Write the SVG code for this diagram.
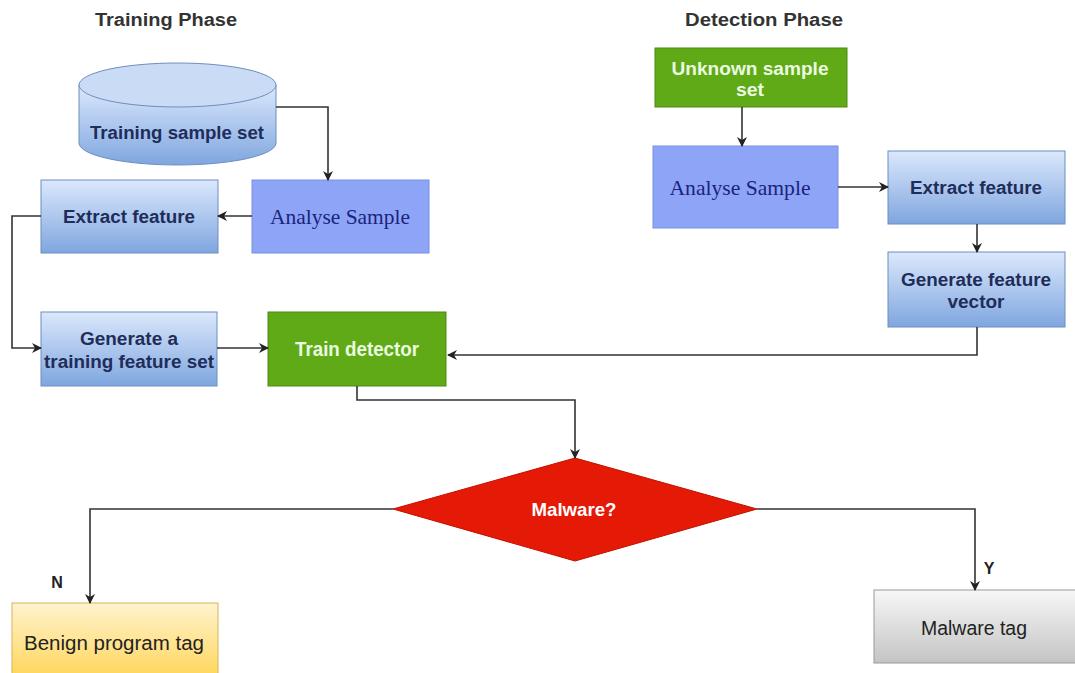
<svg xmlns="http://www.w3.org/2000/svg" width="1075" height="673" viewBox="0 0 1075 673">
<defs>
<linearGradient id="gBlue" x1="0" y1="0" x2="0" y2="1"><stop offset="0" stop-color="#dbe8fc"/><stop offset="1" stop-color="#7fa6df"/></linearGradient>
<linearGradient id="gYellow" x1="0" y1="0" x2="0" y2="1"><stop offset="0" stop-color="#fff3cf"/><stop offset="1" stop-color="#ffd75e"/></linearGradient>
<linearGradient id="gGray" x1="0" y1="0" x2="0" y2="1"><stop offset="0" stop-color="#f7f7f7"/><stop offset="1" stop-color="#c4c4c4"/></linearGradient>
<marker id="arr" viewBox="0 0 10 10" refX="9" refY="5" markerWidth="10" markerHeight="10" markerUnits="userSpaceOnUse" orient="auto">
<path d="M0,0 L10,5 L0,10 L3,5 Z" fill="#222"/>
</marker>
<style>
.title{font-family:"Liberation Sans",Arial,sans-serif;font-weight:bold;font-size:18px;fill:#333;text-anchor:middle}
.lbl{font-family:"Liberation Sans",Arial,sans-serif;font-weight:bold;font-size:18px;fill:#1f2d5a;text-anchor:middle}
.ser{font-family:"Liberation Serif","Times New Roman",serif;font-size:21px;fill:#1a237e;text-anchor:middle}
.wht{font-family:"Liberation Sans",Arial,sans-serif;font-weight:bold;font-size:18px;fill:#eafbe0;text-anchor:middle}
.nar{font-family:"Liberation Sans Narrow","Liberation Sans",Arial,sans-serif;font-size:20px;fill:#222;text-anchor:middle}
.blue{fill:url(#gBlue);stroke:#6c8ebf;stroke-width:1}
.peri{fill:#8ea4f6;stroke:#7b90e0;stroke-width:1}
.green{fill:#60a917;stroke:#4c8a12;stroke-width:1}
.conn{fill:none;stroke:#333;stroke-width:1.6;marker-end:url(#arr)}
</style>
</defs>
<rect width="1075" height="673" fill="#fff"/>

<g id="titles">
<text class="title" x="166" y="26" textLength="142" lengthAdjust="spacingAndGlyphs">Training Phase</text>
<text class="title" x="764" y="26" textLength="158" lengthAdjust="spacingAndGlyphs">Detection Phase</text>
</g>

<g id="training-sample-set">
<path class="blue" d="M79,85 L79,143 A98.5,22 0 0 0 276,143 L276,85 Z"/>
<ellipse cx="177.5" cy="85" rx="98.5" ry="22" fill="#c9dbf5" stroke="#6c8ebf" stroke-width="1"/>
<text class="lbl" x="177" y="139" textLength="174" lengthAdjust="spacingAndGlyphs">Training sample set</text>
</g>

<g id="analyse-sample-train">
<rect class="peri" x="252" y="180" width="177" height="73"/>
<text class="ser" x="340" y="224" textLength="140" lengthAdjust="spacingAndGlyphs">Analyse Sample</text>
</g>

<g id="extract-feature-train">
<rect class="blue" x="41" y="180" width="177" height="73"/>
<text class="lbl" x="129" y="223" textLength="132" lengthAdjust="spacingAndGlyphs">Extract feature</text>
</g>

<g id="generate-training-set">
<rect class="blue" x="41" y="312" width="176" height="74"/>
<text class="lbl" x="129" y="345" textLength="98" lengthAdjust="spacingAndGlyphs">Generate a</text>
<text class="lbl" x="129" y="368" textLength="170" lengthAdjust="spacingAndGlyphs">training feature set</text>
</g>

<g id="train-detector">
<rect class="green" x="268" y="312" width="178" height="74"/>
<text class="wht" x="357" y="356" style="font-size:20px" textLength="124" lengthAdjust="spacingAndGlyphs">Train detector</text>
</g>

<g id="unknown-sample-set">
<rect class="green" x="655" y="48" width="192" height="59"/>
<text class="wht" x="750" y="75" textLength="157" lengthAdjust="spacingAndGlyphs">Unknown sample</text>
<text class="wht" x="750" y="96" textLength="28" lengthAdjust="spacingAndGlyphs">set</text>
</g>

<g id="analyse-sample-detect">
<rect class="peri" x="653" y="146" width="185" height="82"/>
<text class="ser" x="740" y="195" textLength="141" lengthAdjust="spacingAndGlyphs">Analyse Sample</text>
</g>

<g id="extract-feature-detect">
<rect class="blue" x="888" y="151" width="177" height="73"/>
<text class="lbl" x="976" y="194" textLength="132" lengthAdjust="spacingAndGlyphs">Extract feature</text>
</g>

<g id="generate-feature-vector">
<rect class="blue" x="888" y="252" width="177" height="75"/>
<text class="lbl" x="976" y="286" textLength="150" lengthAdjust="spacingAndGlyphs">Generate feature</text>
<text class="lbl" x="976" y="308" textLength="57" lengthAdjust="spacingAndGlyphs">vector</text>
</g>

<g id="malware-decision">
<path d="M575,458 L757,509 L575,561 L393,509 Z" fill="#e51a06" stroke="#c01000" stroke-width="1"/>
<text class="wht" x="574" y="516" style="fill:#fff;font-size:19px" textLength="85" lengthAdjust="spacingAndGlyphs">Malware?</text>
</g>

<g id="benign-tag">
<rect x="12" y="603" width="206" height="72" fill="url(#gYellow)" stroke="#d6b656" stroke-width="1"/>
<text class="nar" x="114" y="650" textLength="180" lengthAdjust="spacingAndGlyphs">Benign program tag</text>
</g>

<g id="malware-tag">
<rect x="874" y="590" width="205" height="73" fill="url(#gGray)" stroke="#999" stroke-width="1"/>
<text class="nar" x="974" y="635" textLength="106" lengthAdjust="spacingAndGlyphs">Malware tag</text>
</g>

<g id="connectors">
<path class="conn" d="M276,107 L328,107 L328,180"/>
<path class="conn" d="M252,216 L218,216"/>
<path class="conn" d="M41,216 L12,216 L12,348 L41,348"/>
<path class="conn" d="M217,348 L268,348"/>
<path class="conn" d="M357,386 L357,400 L575,400 L575,458"/>
<path class="conn" d="M742,107 L742,146"/>
<path class="conn" d="M838,187 L888,187"/>
<path class="conn" d="M977,224 L977,252"/>
<path class="conn" d="M977,327 L977,355 L448,355"/>
<path class="conn" d="M393,509 L90,509 L90,603"/>
<path class="conn" d="M757,509 L975,509 L975,590"/>
<text class="nar" x="57" y="588" style="font-weight:bold;font-size:16px">N</text>
<text class="nar" x="989" y="574" style="font-weight:bold;font-size:16px">Y</text>
</g>
</svg>
